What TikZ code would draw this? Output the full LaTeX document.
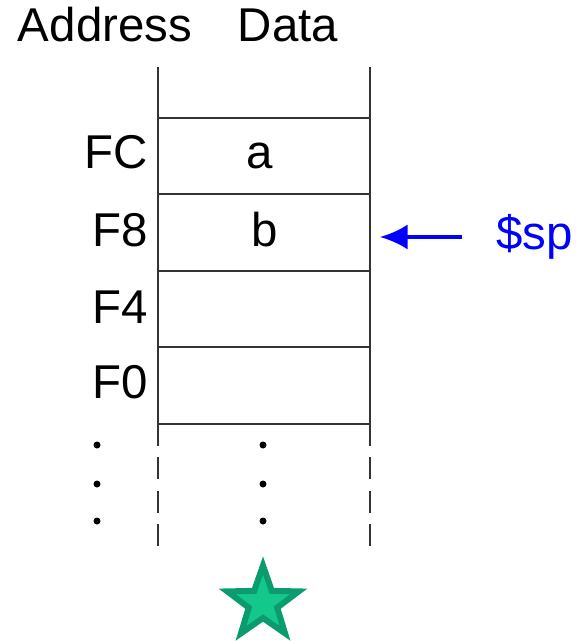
\documentclass[tikz,border=0pt]{standalone}
\usepackage{fontspec}
\setmainfont{Liberation Sans}
\usetikzlibrary{arrows.meta,shapes.geometric}
\definecolor{stargreen}{RGB}{20,200,140}
\definecolor{stardark}{RGB}{10,155,110}
\begin{document}
\begin{tikzpicture}
[x=0.02cm, y=-0.02cm, font=\fontsize{27}{32}\selectfont,
txt/.style={inner sep=0pt},
cellline/.style={draw=black!80, line width=0.04cm},
gapline/.style={cellline, dash pattern=on 0.44cm off 0.23cm},
dot/.style={circle, fill=black, inner sep=0pt, minimum size=0.14cm},
ptrarrow/.style={draw=blue, line width=0.07cm, -{Latex[length=0.55cm, width=0.5cm]}},
marker/.style={star, star points=5, star point ratio=2.5, draw=stardark, fill=stargreen, line width=0.12cm, inner sep=0pt, minimum size=1.5cm}]

\useasboundingbox (0,0) rectangle (576,641);

\node[txt, anchor=base] (addr) at (105,42) {Address};
\node[txt, anchor=base] (data) at (288,42) {Data};

% stack frame
\draw[cellline] (158,67) -- (158,424);
\draw[cellline] (370,67) -- (370,424);
\draw[gapline] (158,424) -- (158,548);
\draw[gapline] (370,424) -- (370,548);
\foreach \y in {118,194,271,347,424} {
  \draw[cellline] (158,\y) -- (370,\y);
}

\foreach \a/\y in {FC/169, F8/247, F4/323, F0/398} {
  \node[txt, anchor=base east] (addr\a) at (148,\y) {\a};
}

\node[txt, anchor=base] (vala) at (260,169) {a};
\node[txt, anchor=base] (valb) at (265,247) {b};

\foreach \y [count=\i] in {445,484,521} {
  \node[dot] (adot\i) at (97,\y) {};
  \node[dot] (ddot\i) at (263,\y) {};
}

% stack pointer
\node[txt, text=blue, anchor=west] (sp) at (496,237) {\$sp};
\coordinate (ptr) at (380,237);
\draw[ptrarrow, shorten <=0.68cm] (sp) -- (ptr);

\node[marker] (star) at (263,603) {};
\end{tikzpicture}
\end{document}
